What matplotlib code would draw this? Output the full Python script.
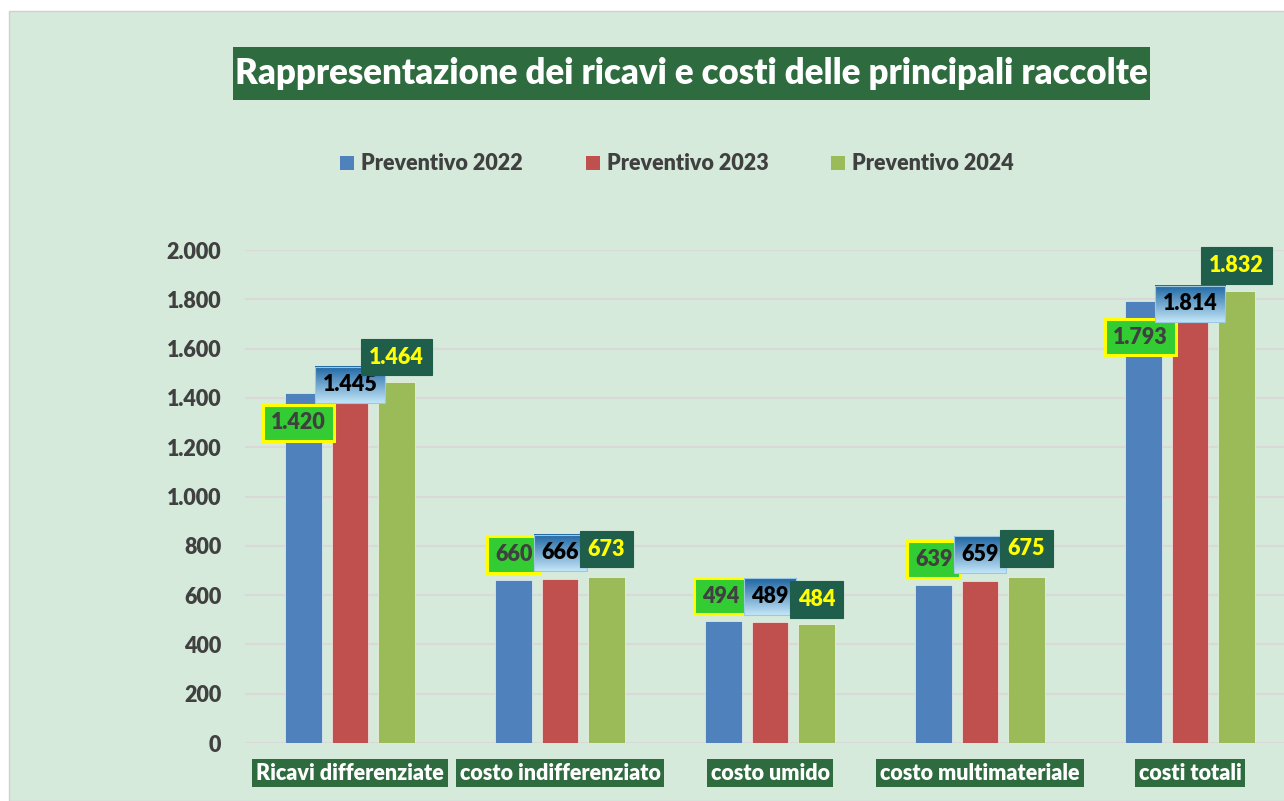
import numpy as np
import matplotlib
matplotlib.use("Agg")
import matplotlib.pyplot as plt
from matplotlib.patches import Rectangle, Patch

categories = ["Ricavi differenziate", "costo indifferenziato", "costo umido",
              "costo multimateriale", "costi totali"]
series_names = ["Preventivo 2022", "Preventivo 2023", "Preventivo 2024"]
prev_2022 = [1420, 660, 494, 639, 1793]
prev_2023 = [1445, 666, 489, 659, 1814]
prev_2024 = [1464, 673, 484, 675, 1832]
y_ticks = [0, 200, 400, 600, 800, 1000, 1200, 1400, 1600, 1800, 2000]

# style
bar_colors = ["#4F81BD", "#C0504D", "#9BBB59"]
bg_green = "#D5EADB"
dark_green = "#2E6B3E"
txt_gray = "#404040"
FONT = ["Lato", "DejaVu Sans"]
WEIGHT = "heavy"
plt.rcParams["font.family"] = FONT
plt.rcParams["font.weight"] = WEIGHT

# label offsets in pixels (dx, dy up) per series per category
label_dx = [[-5, 0, -3, 0, -3], [0, 0, 0, 0, 0], [0, 0, 0, 0, 0]]
label_dy = [[-30, 26, 25, 26, -36], [2, 26, 26, 26, -8], [25, 28, 24, 28, 26]]

W, H = 1284, 801
fig = plt.figure(figsize=(W / 100, H / 100), dpi=100)
fig.patch.set_facecolor("white")
fig.patches.append(Rectangle((9 / W, 0), 1, (H - 11) / H, transform=fig.transFigure,
                             facecolor=bg_green, edgecolor="#D0D0D0", lw=1.0, zorder=-10))

ax_left, ax_right = 245, 1295
ax_bot, ax_top = 743, 250
ax = fig.add_axes([ax_left / W, (H - ax_bot) / H, (ax_right - ax_left) / W,
                   (ax_bot - ax_top) / H])
ax.set_facecolor("none")
ax.set_xlim(-0.5, len(categories) - 0.5)
ax.set_ylim(0, 2000)
ax.set_autoscale_on(False)
for s in ax.spines.values():
    s.set_visible(False)
ax.set_yticks(y_ticks)
ax.set_yticklabels([f"{v:,}".replace(",", ".") for v in y_ticks], fontweight=WEIGHT)
ax.tick_params(axis="y", length=0, pad=17, labelsize=15.5, labelcolor=txt_gray)
ax.tick_params(axis="x", length=0)
ax.set_xticks([])
ax.yaxis.grid(True, color="#D9D9D9", lw=1.6, zorder=0)
ax.set_axisbelow(True)

x = np.arange(len(categories))
step, bw = 0.221, 0.176
all_series = [prev_2022, prev_2023, prev_2024]
for i, vals in enumerate(all_series):
    ax.bar(x + (i - 1) * step, vals, bw, color=bar_colors[i], zorder=2,
           edgecolor="#FFFFFF", linewidth=0.4)

# data labels
label_styles = [
    dict(color=txt_gray, bbox=dict(boxstyle="square,pad=0.36", fc="#33CC33", ec="#FFFF00", lw=2.2)),
    dict(color="black", bbox=dict(boxstyle="square,pad=0.36", fc="none", ec="#9CC9E0", lw=0.8)),
    dict(color="#FFFF00", bbox=dict(boxstyle="square,pad=0.36", fc="#1F5E4B", ec="#1F5E4B", lw=0.8)),
]
texts = []
for i, vals in enumerate(all_series):
    for j, v in enumerate(vals):
        t = ax.annotate(f"{v:,}".replace(",", "."), (x[j] + (i - 1) * step, v),
                        xytext=(label_dx[i][j], label_dy[i][j]), textcoords="offset pixels",
                        ha="center", va="center", fontsize=15.5, fontweight=WEIGHT,
                        zorder=10 + 2 * i + 1, **label_styles[i])
        texts.append((i, t))

# gradient backgrounds for series 2 labels
fig.canvas.draw()
renderer = fig.canvas.get_renderer()
grad = np.linspace(0, 1, 64)[:, None]
top_c = np.array([0.12, 0.40, 0.64])
bot_c = np.array([0.76, 0.90, 0.97])
img = top_c[None, None, :] * (1 - grad[:, :, None]) + bot_c[None, None, :] * grad[:, :, None]
inv = ax.transData.inverted()
for i, t in texts:
    if i != 1:
        continue
    bb = t.get_bbox_patch().get_window_extent(renderer)
    (x0, y0) = inv.transform((bb.x0, bb.y0))
    (x1, y1) = inv.transform((bb.x1, bb.y1))
    ax.imshow(img, extent=(x0, x1, y0, y1), aspect="auto", zorder=10 + 2 * i,
              interpolation="bilinear", origin="upper")
ax.set_xlim(-0.5, len(categories) - 0.5)
ax.set_ylim(0, 2000)

# category labels
for j, c in enumerate(categories):
    ax.annotate(c, (x[j], 0), xytext=(0, -30), textcoords="offset pixels",
                ha="center", va="center", fontsize=15.5, fontweight=WEIGHT, color="white",
                bbox=dict(boxstyle="square,pad=0.18", fc=dark_green, ec="none"),
                annotation_clip=False)

# title with box
tb_x0, tb_x1, tb_y0, tb_y1 = 233, 1150, 47, 100
fig.patches.append(Rectangle((tb_x0 / W, 1 - tb_y1 / H), (tb_x1 - tb_x0) / W,
                             (tb_y1 - tb_y0) / H, transform=fig.transFigure,
                             facecolor=dark_green, edgecolor="none", zorder=1))
fig.text((tb_x0 + tb_x1) / 2 / W, 1 - (tb_y0 + tb_y1) / 2 / H,
         "Rappresentazione dei ricavi e costi delle principali raccolte",
         ha="center", va="center", fontsize=25, fontweight=WEIGHT, color="white", zorder=2)

# legend
handles = [Patch(facecolor=c) for c in bar_colors]
leg = fig.legend(handles, series_names, loc="center", bbox_to_anchor=(677 / W, 1 - 164 / H),
                 ncol=3, frameon=False, handlelength=0.65, handleheight=0.65,
                 handletextpad=0.33, columnspacing=2.9,
                 prop=dict(family=FONT, weight=WEIGHT, size=15.5))
for tx in leg.get_texts():
    tx.set_color(txt_gray)

fig.savefig("out.png", dpi=100, facecolor=fig.get_facecolor())
